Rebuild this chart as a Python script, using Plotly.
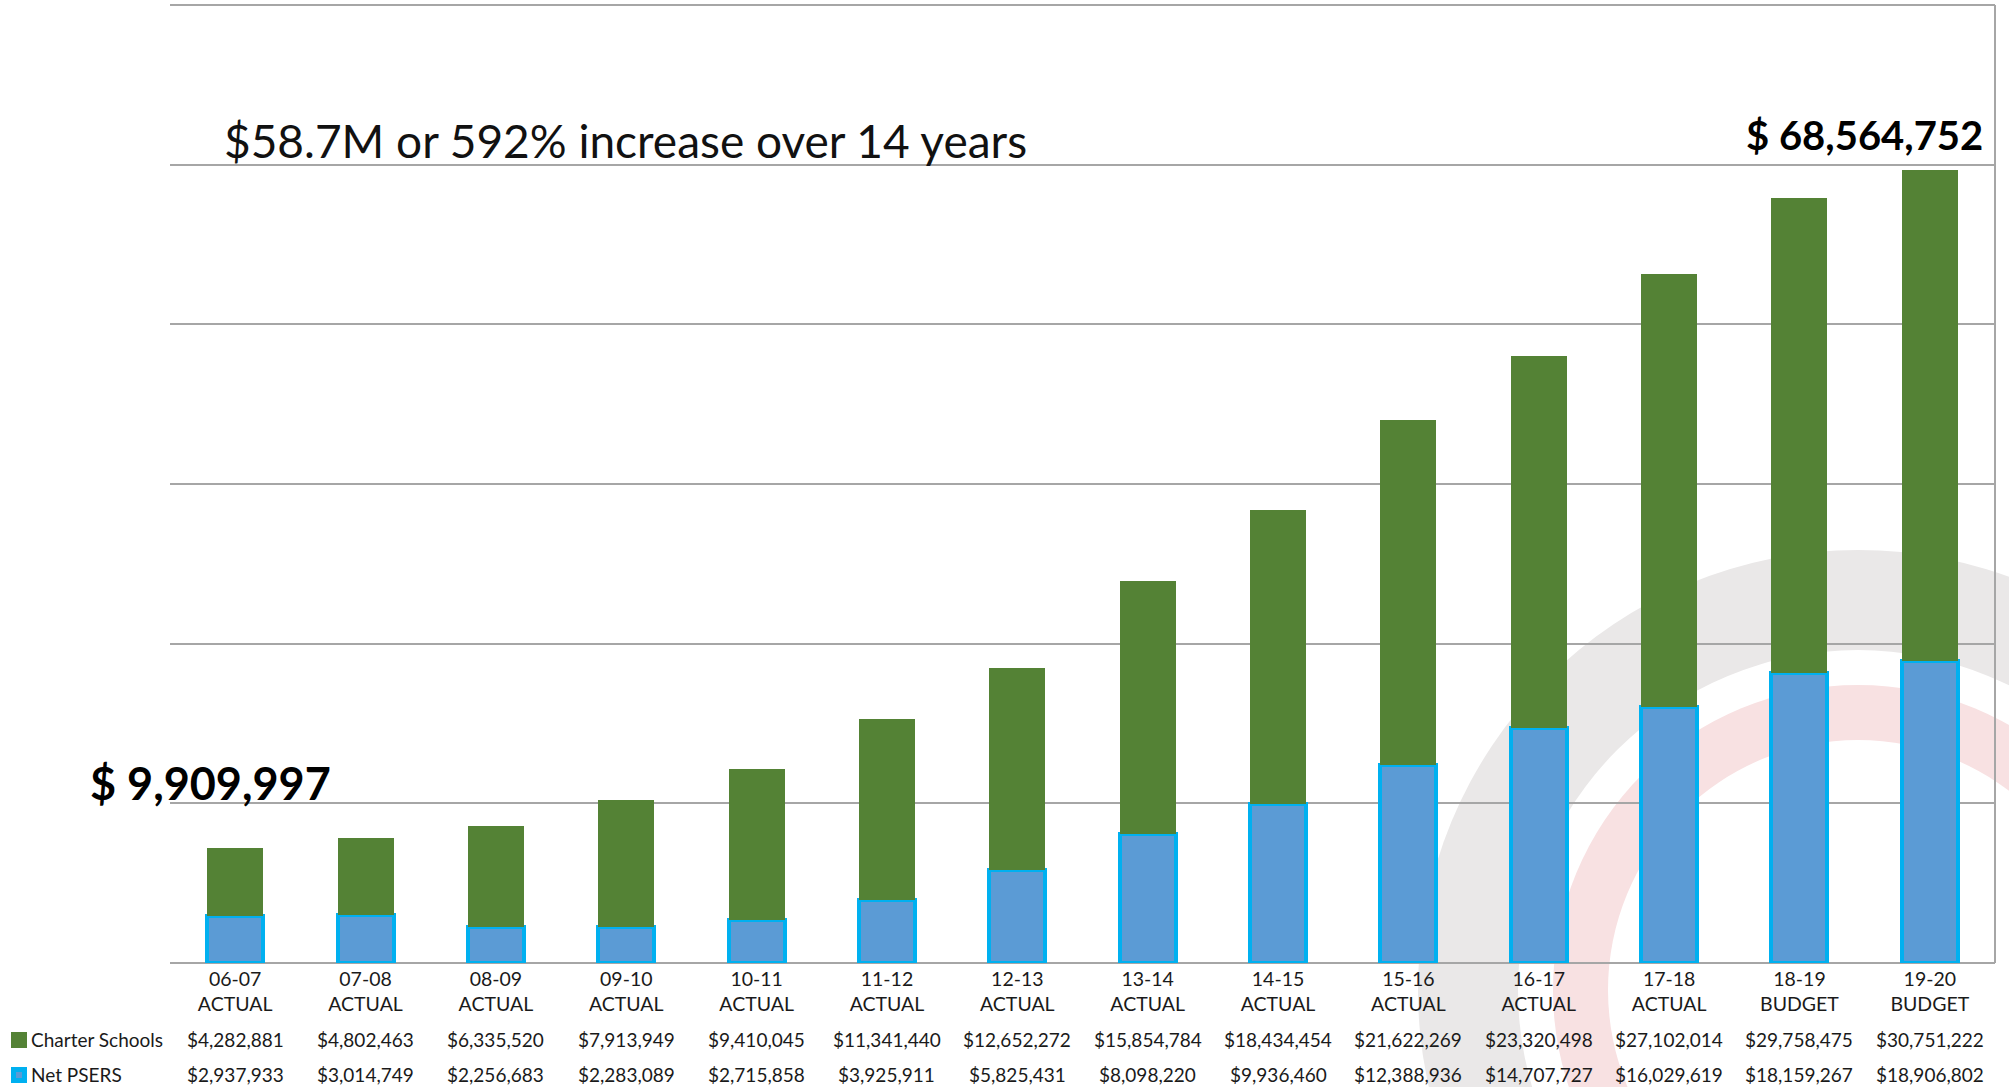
import plotly.graph_objects as go

categories = ["06-07", "07-08", "08-09", "09-10", "10-11", "11-12", "12-13",
              "13-14", "14-15", "15-16", "16-17", "17-18", "18-19", "19-20"]
status = ["ACTUAL"] * 12 + ["BUDGET", "BUDGET"]
charter_schools = [4282881, 4802463, 6335520, 7913949, 9410045, 11341440, 12652272,
                   15854784, 18434454, 21622269, 23320498, 27102014, 29758475, 30751222]
net_psers = [2937933, 3014749, 2256683, 2283089, 2715858, 3925911, 5825431,
             8098220, 9936460, 12388936, 14707727, 16029619, 18159267, 18906802]
total_start = "$ 9,909,997"
total_end = "$ 68,564,752"
headline = "$58.7M or 592% increase over 14 years"

W, H = 2009, 1087
L, R, T, B = 170, 14, 5, 124
PW, PH = W - L - R, H - T - B

def px(x):
    return (x - L) / PW

def py(y):
    return (H - B - y) / PH

FONT = "Lato"
GREEN = "#548235"
BLUE = "#5B9BD5"
CYAN = "#00B0F0"
GRID = "#A6A6A6"
TXT = "#1a1a1a"

ticktext = [f"{c}<br>{s}" for c, s in zip(categories, status)]

fig = go.Figure()
fig.add_trace(go.Bar(x=categories, y=net_psers, name="Net PSERS",
                     marker=dict(color=BLUE, line=dict(color=CYAN, width=4))))
fig.add_trace(go.Bar(x=categories, y=charter_schools, name="Charter Schools",
                     marker=dict(color=GREEN, line=dict(color=GREEN, width=0))))

annotations = []
def fmt(v):
    return "${:,}".format(v)

for c, cs, npv in zip(categories, charter_schools, net_psers):
    annotations.append(dict(x=c, xref="x", y=py(1039), yref="paper", text=fmt(cs),
                            showarrow=False, font=dict(family=FONT, size=19, color=TXT),
                            xanchor="center", yanchor="middle"))
    annotations.append(dict(x=c, xref="x", y=py(1074), yref="paper", text=fmt(npv),
                            showarrow=False, font=dict(family=FONT, size=19, color=TXT),
                            xanchor="center", yanchor="middle"))

annotations.append(dict(x=px(29), xref="paper", y=py(1039), yref="paper", text="Charter Schools",
                        showarrow=False, font=dict(family=FONT, size=19, color=TXT),
                        xanchor="left", yanchor="middle"))
annotations.append(dict(x=px(29), xref="paper", y=py(1074), yref="paper", text="Net PSERS",
                        showarrow=False, font=dict(family=FONT, size=19, color=TXT),
                        xanchor="left", yanchor="middle"))

annotations.append(dict(x=px(222), xref="paper", y=py(141), yref="paper", text=headline,
                        showarrow=False, font=dict(family=FONT, size=46, color="#111111"),
                        xanchor="left", yanchor="middle"))
annotations.append(dict(x=px(88), xref="paper", y=py(783), yref="paper", text=f"<b>{total_start}</b>",
                        showarrow=False, font=dict(family=FONT, size=45, color="#000000"),
                        xanchor="left", yanchor="middle"))
annotations.append(dict(x=px(1985), xref="paper", y=py(135), yref="paper", text=f"<b>{total_end}</b>",
                        showarrow=False, font=dict(family=FONT, size=40, color="#000000"),
                        xanchor="right", yanchor="middle"))

# faint background watermark (gear ring + inner ring)
cx, cy = px(1858), py(990)
def disk(r, color):
    return dict(type="circle", xref="paper", yref="paper", xsizemode="pixel", ysizemode="pixel",
                xanchor=cx, yanchor=cy, x0=-r, x1=r, y0=-r, y1=r,
                fillcolor=color, line=dict(width=0), layer="below")

shapes = [
    disk(440, "#EAE8E8"),
    disk(340, "#FFFFFF"),
    disk(305, "#F8E1E2"),
    disk(250, "#FFFFFF"),
    dict(type="line", xref="paper", yref="paper", x0=1, x1=1, y0=0, y1=1,
         line=dict(color=GRID, width=2)),
    dict(type="line", xref="paper", yref="paper", x0=0, x1=1, y0=1, y1=1,
         line=dict(color=GRID, width=2)),
    dict(type="rect", xref="paper", yref="paper", x0=px(11), x1=px(27), y0=py(1048), y1=py(1032),
         fillcolor=GREEN, line=dict(color=GREEN, width=0)),
    dict(type="rect", xref="paper", yref="paper", x0=px(11), x1=px(27), y0=py(1083), y1=py(1067),
         fillcolor=CYAN, line=dict(color=CYAN, width=0)),
    dict(type="rect", xref="paper", yref="paper", x0=px(16), x1=px(22), y0=py(1078), y1=py(1072),
         fillcolor=BLUE, line=dict(color=BLUE, width=0)),
]

fig.update_layout(
    width=W, height=H,
    margin=dict(l=L, r=R, t=T, b=B),
    barmode="stack",
    bargap=0.57,
    showlegend=False,
    plot_bgcolor="rgba(0,0,0,0)",
    paper_bgcolor="white",
    font=dict(family=FONT, size=18, color=TXT),
    annotations=annotations,
    shapes=shapes,
    xaxis=dict(type="category", tickmode="array", tickvals=categories, ticktext=ticktext,
               showgrid=False, showline=False, ticks="", ticklabelstandoff=2,
               tickfont=dict(family=FONT, size=19.5, color=TXT)),
    yaxis=dict(range=[0, 60000000], dtick=10000000, showticklabels=False,
               showgrid=True, gridcolor=GRID, gridwidth=2, zeroline=True,
               zerolinecolor=GRID, zerolinewidth=2, showline=False, ticks=""),
)

fig.write_html("out.html",
               config={"displayModeBar": False},
               post_script="document.body.style.margin='0px';"
                           "document.documentElement.style.overflow='hidden';")
